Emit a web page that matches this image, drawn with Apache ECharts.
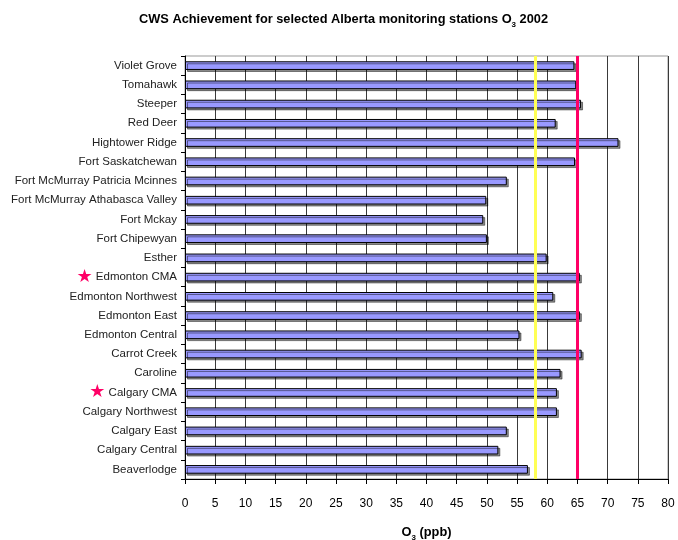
<!DOCTYPE html>
<html>
<head>
<meta charset="utf-8">
<title>CWS Achievement O3 2002</title>
<script src="https://cdn.jsdelivr.net/npm/echarts@6/dist/echarts.min.js"></script>
<style>
  html, body { margin: 0; padding: 0; background: #fff; }
  #chart { width: 678px; height: 540px; }
</style>
</head>
<body>
<div id="chart"></div>
<script>
// Monitoring stations, listed top to bottom
const stations = [
  'Violet Grove', 'Tomahawk', 'Steeper', 'Red Deer', 'Hightower Ridge',
  'Fort Saskatchewan', 'Fort McMurray Patricia Mcinnes',
  'Fort McMurray Athabasca Valley', 'Fort Mckay', 'Fort Chipewyan', 'Esther',
  'Edmonton CMA', 'Edmonton Northwest', 'Edmonton East', 'Edmonton Central',
  'Carrot Creek', 'Caroline', 'Calgary CMA', 'Calgary Northwest',
  'Calgary East', 'Calgary Central', 'Beaverlodge'
];

// O3 metric value per station (ppb)
const o3Values = [
  64.5, 64.8, 65.6, 61.4, 71.8,
  64.6, 53.3,
  49.9, 49.4, 50.0, 59.9,
  65.4, 61.0, 65.4, 55.4,
  65.7, 62.2, 61.6, 61.6,
  53.3, 51.9, 56.8
];

// Stations flagged with a star (census metropolitan areas)
const starredStations = ['Edmonton CMA', 'Calgary CMA'];

// Reference levels (ppb)
const managementLevel = 58;
const cwsStandard = 65;

// Value axis range and ticks
const xMin = 0;
const xMax = 80;
const xStep = 5;

const FONT = '"Liberation Sans", Arial, sans-serif';

// Bold text with a subscript "3" for the ozone formula
const richFormula = {
  t: { fontFamily: FONT, fontSize: 12.8, fontWeight: 'bold', color: '#000', verticalAlign: 'bottom', lineHeight: 15 },
  s: { fontFamily: FONT, fontSize: 8, fontWeight: 'bold', color: '#000', verticalAlign: 'bottom', lineHeight: 10, padding: [0, 0, -3, 0] }
};

const chart = echarts.init(document.getElementById('chart'), null, { renderer: 'canvas' });

chart.setOption({
  backgroundColor: '#ffffff',
  animation: false,
  textStyle: { fontFamily: FONT },
  title: {
    text: '{t|CWS Achievement for selected Alberta monitoring stations O}{s|3}{t| 2002}',
    left: 139,
    top: 11,
    padding: 0,
    textStyle: { rich: richFormula }
  },
  grid: {
    left: 185,
    right: 10,
    top: 56,
    bottom: 61,
    show: true,
    borderColor: '#999',
    borderWidth: 1,
    containLabel: false,
    outerBoundsMode: 'none'
  },
  xAxis: {
    type: 'value',
    min: xMin,
    max: xMax,
    interval: xStep,
    name: '{t|O}{s|3}{t| (ppb)}',
    nameLocation: 'middle',
    nameGap: 45,
    nameTextStyle: { rich: richFormula },
    axisLine: { show: true, lineStyle: { color: '#000', width: 1 } },
    axisTick: { show: true, length: 5, lineStyle: { color: '#000' } },
    axisLabel: { color: '#000', fontSize: 12, fontFamily: FONT, margin: 19 },
    splitLine: { show: true, lineStyle: { color: '#3a3a3a', width: 1 } }
  },
  yAxis: {
    type: 'category',
    data: stations,
    inverse: true,
    axisLine: { show: true, lineStyle: { color: '#000', width: 1 } },
    axisTick: { show: true, length: 4, lineStyle: { color: '#000' } },
    axisLabel: {
      color: '#222',
      fontSize: 11.5,
      fontFamily: FONT,
      margin: 8,
      formatter: function (name) {
        return starredStations.indexOf(name) >= 0 ? '{star|★} ' + name : name;
      },
      rich: {
        star: { color: '#FF0066', fontSize: 18, fontFamily: '"DejaVu Sans", sans-serif' }
      }
    },
    splitLine: { show: false }
  },
  series: [
    {
      type: 'bar',
      data: o3Values,
      barWidth: '45%',
      itemStyle: {
        color: '#9999FF',
        borderColor: '#000',
        borderWidth: 1,
        shadowColor: 'rgba(0,0,0,0.45)',
        shadowOffsetX: 2,
        shadowOffsetY: 2,
        shadowBlur: 0
      },
      markLine: {
        silent: true,
        symbol: 'none',
        label: { show: false },
        z: 5,
        data: [
          { xAxis: managementLevel, lineStyle: { color: '#FFFF55', width: 3, type: 'solid' } },
          { xAxis: cwsStandard, lineStyle: { color: '#FF0066', width: 3, type: 'solid' } }
        ]
      }
    }
  ]
});
</script>
</body>
</html>
